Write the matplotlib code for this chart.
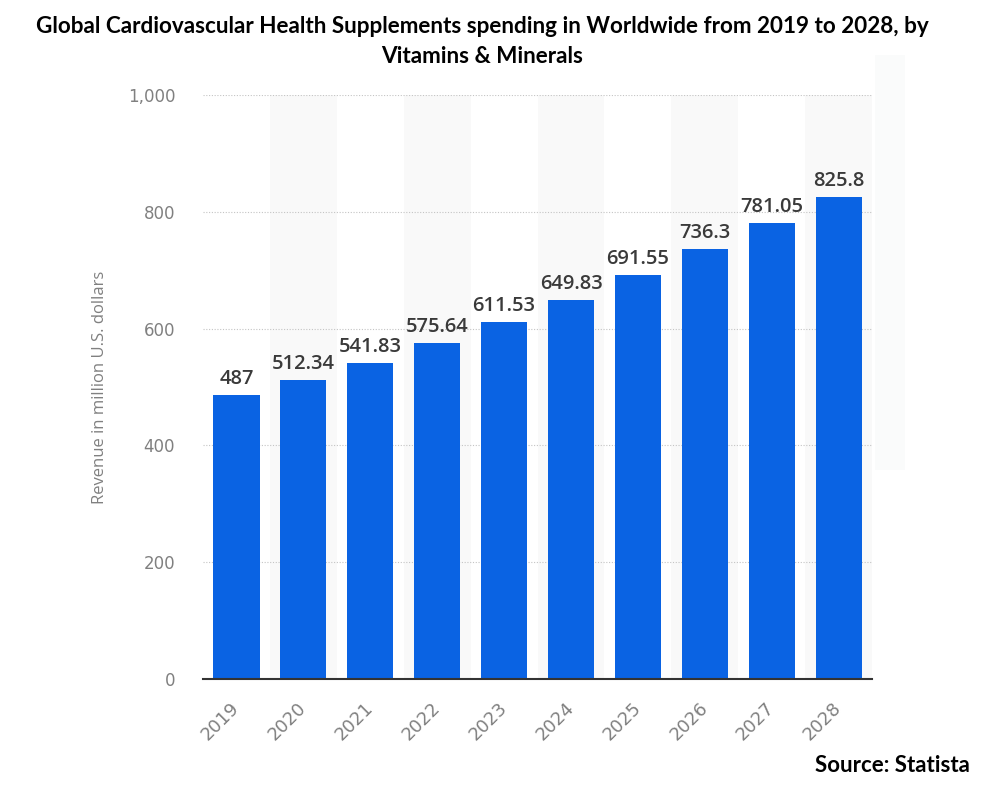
import matplotlib
matplotlib.use("Agg")
import matplotlib.pyplot as plt
from matplotlib.patches import Rectangle

years = ["2019", "2020", "2021", "2022", "2023", "2024", "2025", "2026", "2027", "2028"]
revenue = [487, 512.34, 541.83, 575.64, 611.53, 649.83, 691.55, 736.3, 781.05, 825.8]
value_labels = ["487", "512.34", "541.83", "575.64", "611.53", "649.83", "691.55", "736.3", "781.05", "825.8"]
y_ticks = [0, 200, 400, 600, 800, 1000]
y_tick_labels = ["0", "200", "400", "600", "800", "1,000"]

fig = plt.figure(figsize=(9.9, 7.88), dpi=100)

# faint shadow strip at the right of the chart area
fig.patches.append(Rectangle((0.884, 0.404), 0.03, 0.526, transform=fig.transFigure,
                             facecolor="#fafbfb", edgecolor="none", zorder=0))

ax = fig.add_axes([0.205, 0.1383, 0.676, 0.7411])
ax.patch.set_alpha(0)

x = list(range(len(years)))

# light alternating column backgrounds
for i in x:
    if i % 2 == 1:
        ax.axvspan(i - 0.5, i + 0.5, color="#f9f9f9", zorder=0, lw=0)

ax.bar(x, revenue, width=0.69, color="#0a63e3", zorder=3)

for i, v in enumerate(revenue):
    ax.text(i, v + 10, value_labels[i], ha="center", va="bottom", fontsize=14.5,
            color="#3a3a3a", family="Open Sans", fontweight="semibold", zorder=4)

ax.set_xlim(-0.5, len(years) - 0.5)
ax.set_ylim(0, 1000)
ax.set_yticks(y_ticks)
ax.set_yticklabels(y_tick_labels, family="DejaVu Sans", fontsize=12, color="#808080")
ax.set_xticks(x)
ax.set_xticklabels(years, rotation=45, ha="right", va="center", rotation_mode="anchor",
                   family="DejaVu Sans", fontsize=13, color="#808080")
ax.tick_params(axis="both", length=0)
ax.tick_params(axis="y", pad=20)
ax.tick_params(axis="x", pad=19)

ax.grid(axis="y", linestyle=(0, (1, 1.5)), color="#c4c4c4", linewidth=0.8, zorder=1)
for s in ["top", "right", "left"]:
    ax.spines[s].set_visible(False)
ax.spines["bottom"].set_color("#333333")
ax.spines["bottom"].set_linewidth(1.5)
ax.spines["bottom"].set_zorder(5)

ax.set_ylabel("Revenue in million U.S. dollars", family="Open Sans", fontsize=12,
              color="#808080", labelpad=14)

fig.text(0.487, 0.966, "Global Cardiovascular Health Supplements spending in Worldwide from 2019 to 2028, by",
         ha="center", va="center", fontsize=16.2, fontweight="bold", family="Lato", color="black")
fig.text(0.487, 0.928, "Vitamins & Minerals",
         ha="center", va="center", fontsize=16.2, fontweight="bold", family="Lato", color="black")
fig.text(0.98, 0.028, "Source: Statista", ha="right", va="center", fontsize=16,
         fontweight="bold", family="Lato", color="black")

fig.savefig("out.png", dpi=100)
